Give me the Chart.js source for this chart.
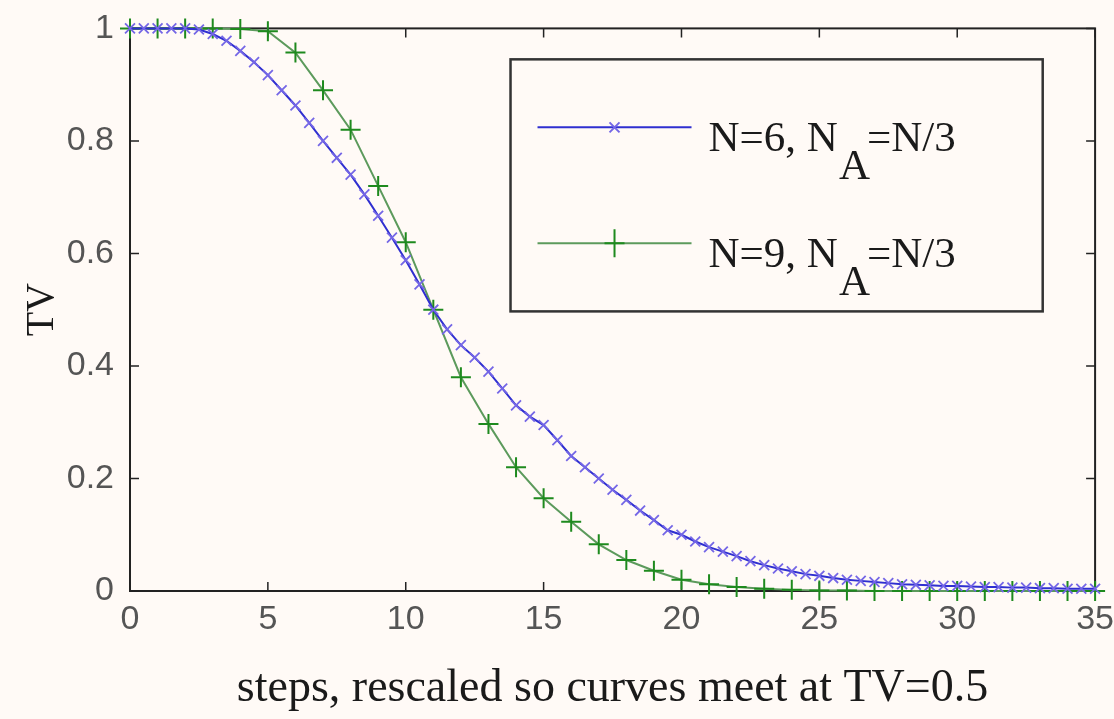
<!DOCTYPE html>
<html>
<head>
<meta charset="utf-8">
<script src="https://cdn.jsdelivr.net/npm/chart.js@4.4.1/dist/chart.umd.min.js"></script>
<style>
  html, body { margin: 0; padding: 0; background: #fffaf6; }
  #wrap { width: 1114px; height: 719px; }
</style>
</head>
<body>
<div id="wrap"><canvas id="myChart" width="1114" height="719"></canvas></div>
<script>
// N=6 curve, sampled every half step (x markers)
const stepsN6 = [0, 0.5, 1, 1.5, 2, 2.5, 3, 3.5, 4, 4.5, 5, 5.5, 6, 6.5, 7, 7.5, 8, 8.5, 9, 9.5,
  10, 10.5, 11, 11.5, 12, 12.5, 13, 13.5, 14, 14.5, 15, 15.5, 16, 16.5, 17, 17.5, 18, 18.5, 19, 19.5,
  20, 20.5, 21, 21.5, 22, 22.5, 23, 23.5, 24, 24.5, 25, 25.5, 26, 26.5, 27, 27.5, 28, 28.5, 29, 29.5,
  30, 30.5, 31, 31.5, 32, 32.5, 33, 33.5, 34, 34.5, 35];
const tvN6 = [1, 1, 1, 1, 1, 0.998, 0.99, 0.978, 0.96, 0.94, 0.917, 0.89, 0.863, 0.832, 0.80, 0.77, 0.74, 0.705, 0.667, 0.628,
  0.588, 0.545, 0.50, 0.465, 0.437, 0.415, 0.39, 0.36, 0.33, 0.31, 0.295, 0.268, 0.24, 0.22, 0.20, 0.18, 0.162, 0.143, 0.126, 0.108,
  0.10, 0.088, 0.078, 0.07, 0.062, 0.053, 0.046, 0.04, 0.035, 0.03, 0.027, 0.023, 0.02, 0.018, 0.016, 0.014, 0.012, 0.011, 0.01, 0.009,
  0.009, 0.008, 0.007, 0.007, 0.006, 0.006, 0.005, 0.005, 0.004, 0.004, 0.004];

// N=9 curve, one point per step (+ markers)
const stepsN9 = [0, 1, 2, 3, 4, 5, 6, 7, 8, 9, 10, 11, 12, 13, 14, 15, 16, 17, 18, 19, 20, 21, 22, 23, 24, 25, 26, 27, 28, 29, 30, 31, 32, 33, 34, 35];
const tvN9 = [1, 1, 1, 1, 0.999, 0.995, 0.957, 0.89, 0.82, 0.72, 0.62, 0.50, 0.38, 0.297, 0.22, 0.165, 0.123, 0.083, 0.055, 0.036,
  0.02, 0.012, 0.007, 0.004, 0.002, 0.001, 0.001, 0, 0, 0, 0, 0, 0, 0, 0, 0];

const xTicks = [0, 5, 10, 15, 20, 25, 30, 35];
const yTicks = [0, 0.2, 0.4, 0.6, 0.8, 1];
const legendNames = ["N=6, N", "N=9, N"];

const blueLine = "#2f2fd0";
const blueMark = "#7466e6";
const greenLine = "#5c9a5c";
const greenMark = "#1e8a1e";

// box round the axes with the ticks pointing inwards, as matlab does
const framePlugin = {
  id: "frame",
  beforeDatasetsDraw(chart) {
    const ctx = chart.ctx;
    const a = chart.chartArea;
    const xs = chart.scales.x, ys = chart.scales.y;
    ctx.save();
    ctx.strokeStyle = "#222";
    ctx.lineWidth = 2;
    ctx.strokeRect(a.left, a.top, a.right - a.left, a.bottom - a.top);
    ctx.lineWidth = 1.5;
    ctx.beginPath();
    xTicks.forEach((t) => {
      const px = xs.getPixelForValue(t);
      ctx.moveTo(px, a.bottom); ctx.lineTo(px, a.bottom - 9);
      ctx.moveTo(px, a.top); ctx.lineTo(px, a.top + 9);
    });
    yTicks.forEach((t) => {
      const py = ys.getPixelForValue(t);
      ctx.moveTo(a.left, py); ctx.lineTo(a.left + 9, py);
      ctx.moveTo(a.right, py); ctx.lineTo(a.right - 9, py);
    });
    ctx.stroke();
    ctx.restore();
  }
};

// legend with the subscript A
const legendPlugin = {
  id: "subLegend",
  afterDatasetsDraw(chart) {
    const ctx = chart.ctx;
    const xs = chart.scales.x, ys = chart.scales.y;
    const left = xs.getPixelForValue(13.8);
    const right = xs.getPixelForValue(33.1);
    const top = ys.getPixelForValue(0.945);
    const bottom = ys.getPixelForValue(0.497);
    ctx.save();
    ctx.fillStyle = "#fffaf6";
    ctx.fillRect(left, top, right - left, bottom - top);
    ctx.strokeStyle = "#333";
    ctx.lineWidth = 2.5;
    ctx.strokeRect(left, top, right - left, bottom - top);

    const rows = [
      { y: top + 68, line: blueLine, mark: blueMark, style: "x" },
      { y: top + 184, line: greenLine, mark: greenMark, style: "+" }
    ];
    rows.forEach((r, i) => {
      ctx.strokeStyle = r.line;
      ctx.lineWidth = 2;
      ctx.beginPath();
      ctx.moveTo(left + 27, r.y);
      ctx.lineTo(left + 181, r.y);
      ctx.stroke();
      const mx = left + 104;
      ctx.strokeStyle = r.mark;
      ctx.beginPath();
      if (r.style === "x") {
        ctx.moveTo(mx - 5, r.y - 5); ctx.lineTo(mx + 5, r.y + 5);
        ctx.moveTo(mx + 5, r.y - 5); ctx.lineTo(mx - 5, r.y + 5);
      } else {
        ctx.moveTo(mx, r.y - 14); ctx.lineTo(mx, r.y + 14);
        ctx.moveTo(mx - 10, r.y); ctx.lineTo(mx + 10, r.y);
      }
      ctx.stroke();

      ctx.fillStyle = "#1a1a1a";
      ctx.textBaseline = "alphabetic";
      ctx.font = "43px 'Liberation Serif', 'Times New Roman', serif";
      const tx = left + 198;
      const base = r.y + 24;
      ctx.fillText(legendNames[i], tx, base);
      const w = ctx.measureText(legendNames[i]).width;
      ctx.fillText("A", tx + w + 1, base + 28);
      const wa = ctx.measureText("A").width;
      ctx.fillText("=N/3", tx + w + wa - 2, base);
    });
    ctx.restore();
  }
};

const datasets = [
  {
    label: "N=6, NA=N/3",
    data: stepsN6.map((s, i) => ({ x: s, y: tvN6[i] })),
    borderColor: blueLine,
    borderWidth: 2,
    pointStyle: "crossRot",
    pointRadius: 7,
    pointBorderWidth: 1.8,
    pointBorderColor: blueMark,
    pointBackgroundColor: blueMark,
    fill: false,
    tension: 0,
    clip: false
  },
  {
    label: "N=9, NA=N/3",
    data: stepsN9.map((s, i) => ({ x: s, y: tvN9[i] })),
    borderColor: greenLine,
    borderWidth: 2,
    pointStyle: "cross",
    pointRadius: 10,
    pointBorderWidth: 2,
    pointBorderColor: greenMark,
    pointBackgroundColor: greenMark,
    fill: false,
    tension: 0,
    clip: false
  }
];

const tickFont = { family: "'Liberation Sans', Arial, sans-serif", size: 34 };

new Chart(document.getElementById("myChart"), {
  type: "line",
  data: { datasets },
  plugins: [framePlugin, legendPlugin],
  options: {
    responsive: false,
    animation: false,
    events: [],
    layout: { padding: { left: 0, right: 14, top: 28, bottom: 0 } },
    plugins: { legend: { display: false }, tooltip: { enabled: false } },
    scales: {
      x: {
        type: "linear",
        min: 0,
        max: 35,
        grid: { display: false },
        border: { display: false },
        afterBuildTicks: (scale) => { scale.ticks = xTicks.map((v) => ({ value: v })); },
        afterFit: (scale) => { scale.height = 128; },
        ticks: { color: "#555", font: tickFont, padding: 0, maxRotation: 0 },
        title: {
          display: true,
          text: "steps, rescaled so curves meet at TV=0.5",
          color: "#1a1a1a",
          font: { family: "'Liberation Serif', 'Times New Roman', serif", size: 46 },
          padding: { top: 0, bottom: 2 }
        }
      },
      y: {
        min: 0,
        max: 1,
        grid: { display: false },
        border: { display: false },
        afterBuildTicks: (scale) => { scale.ticks = yTicks.map((v) => ({ value: v })); },
        afterFit: (scale) => { scale.width = 130; },
        ticks: {
          color: "#555",
          font: tickFont,
          padding: 8,
          callback: (v) => (v === 0 || v === 1 ? String(v) : v.toFixed(1))
        },
        title: {
          display: true,
          text: "TV",
          color: "#1a1a1a",
          font: { family: "'Liberation Serif', 'Times New Roman', serif", size: 40 },
          padding: { top: 18, bottom: 0 }
        }
      }
    }
  }
});
</script>
</body>
</html>
